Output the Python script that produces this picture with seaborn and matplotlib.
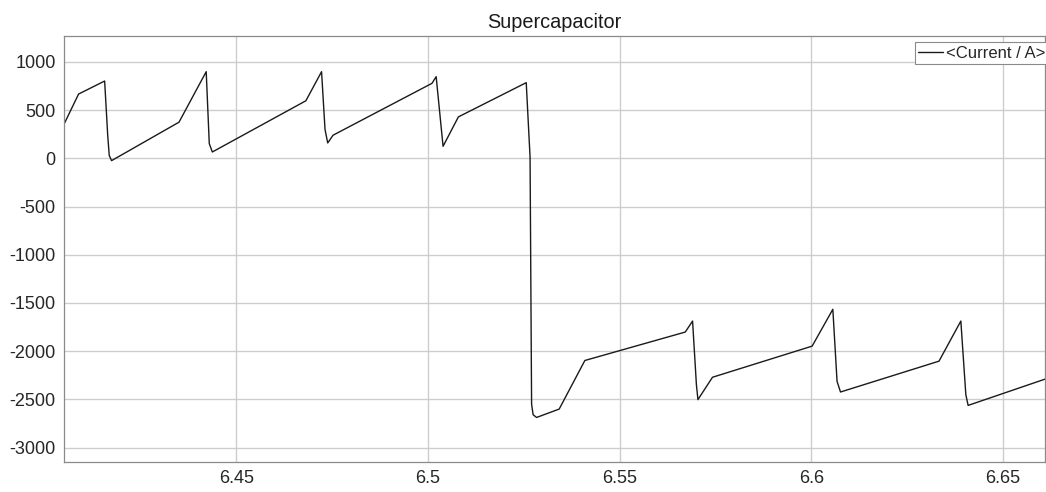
import pandas as pd
import seaborn as sns
import matplotlib.pyplot as plt

# time (s) and supercapacitor current (A)
time_s = [6.4050, 6.4088, 6.4156, 6.4164, 6.4168, 6.4174,
          6.4350, 6.4421, 6.4429, 6.4437,
          6.4681, 6.4722, 6.4731, 6.4738, 6.4752,
          6.5010, 6.5021, 6.5039, 6.5079,
          6.5256, 6.5266, 6.5270, 6.5274, 6.5283,
          6.5342, 6.5409, 6.5671, 6.5690, 6.5700, 6.5704, 6.5742,
          6.6002, 6.6056, 6.6067, 6.6076,
          6.6333, 6.6390, 6.6403, 6.6409, 6.6610]
current_a = [354, 667, 802, 240, 30, -24,
             375, 899, 153, 66,
             597, 899, 300, 160, 240,
             778, 847, 125, 430,
             785, 14, -2550, -2660, -2688,
             -2601, -2097, -1802, -1688, -2347, -2503, -2271,
             -1948, -1566, -2313, -2424,
             -2104, -1688, -2451, -2563, -2290]

x_ticks = [6.45, 6.5, 6.55, 6.6, 6.65]
x_tick_labels = ["6.45", "6.5", "6.55", "6.6", "6.65"]
y_ticks = [-3000, -2500, -2000, -1500, -1000, -500, 0, 500, 1000]

df = pd.DataFrame({"t": time_s, "Current": current_a})

sns.set_style("white")
plt.rcParams["font.family"] = ["Liberation Sans", "DejaVu Sans"]

fig = plt.figure(figsize=(10.46, 4.92), dpi=100)
ax = fig.add_axes([0.0612, 0.061, 0.938, 0.866])

sns.lineplot(data=df, x="t", y="Current", ax=ax, estimator=None, sort=False,
             color="#1a1a1a", linewidth=1.0, label="<Current / A>")

ax.set_xlim(6.405, 6.661)
ax.set_ylim(-3150, 1270)
ax.set_xticks(x_ticks)
ax.set_xticklabels(x_tick_labels)
ax.set_yticks(y_ticks)
ax.set_yticklabels([str(v) for v in y_ticks])
ax.set_xlabel("")
ax.set_ylabel("")

ax.grid(True, color="#cdcdcd", linewidth=1.0)
ax.set_axisbelow(True)
for sp in ax.spines.values():
    sp.set_color("#8a8a8a")
    sp.set_linewidth(0.9)
ax.tick_params(axis="both", direction="in", length=4, color="#6a6a6a",
               labelsize=13, labelcolor="#262626", pad=6)

ax.set_title("Supercapacitor", fontsize=14.3, color="#1a1a1a", pad=6)

leg = ax.legend(loc="upper right", bbox_to_anchor=(1.004, 0.985), fontsize=12,
                handlelength=1.5, handletextpad=0.2, borderpad=0.2,
                borderaxespad=0.0, frameon=True, fancybox=False, framealpha=1)
leg.get_frame().set_edgecolor("#8a8a8a")
leg.get_frame().set_linewidth(0.8)

plt.savefig("out.png", dpi=100)
